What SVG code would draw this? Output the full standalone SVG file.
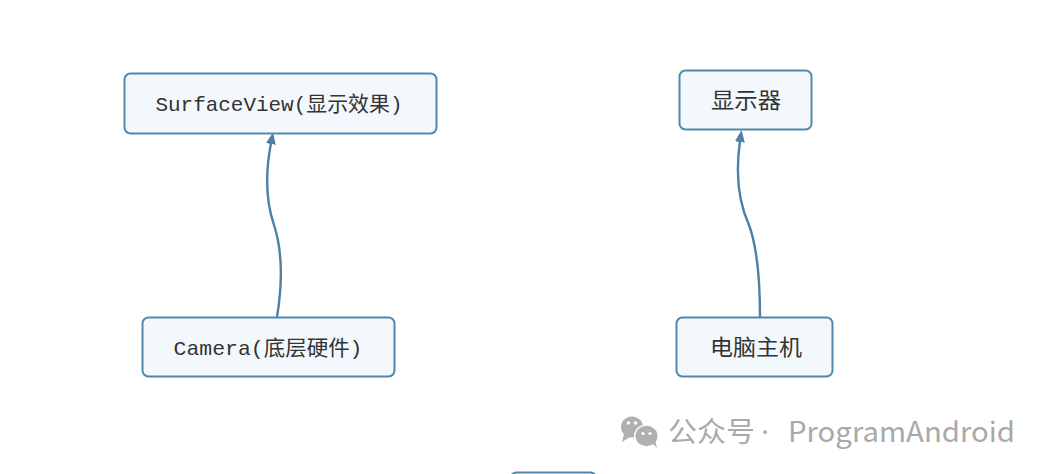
<svg xmlns="http://www.w3.org/2000/svg" width="1050" height="474" viewBox="0 0 1050 474">
  <style>
    .box { fill: #f3f8fc; stroke: #5288a9; stroke-width: 2; }
    .lbl { font-family: "Liberation Mono", "Noto Sans CJK SC", monospace; font-size: 21px; fill: #333333; text-anchor: middle; }
    .cjk { font-family: "Noto Sans CJK SC", sans-serif; font-size: 22px; fill: #333333; text-anchor: middle; }
    .link { fill: none; stroke: #4d80a3; stroke-width: 2.4; stroke-linecap: round; }
    .wm { font-family: "Noto Sans CJK SC", "Noto Sans", sans-serif; font-size: 28px; fill: #a9a9a9; }
  </style>
  <defs>
    <marker id="arrow" viewBox="0 0 12 10" refX="1" refY="5" markerWidth="12" markerHeight="10" markerUnits="userSpaceOnUse" orient="auto">
      <path d="M0,0 L12,5 L0,10 z" fill="#4d80a3"/>
    </marker>
  </defs>

  <rect width="1050" height="474" fill="#ffffff"/>

  <!-- connectors -->
  <g id="connectors">
    <path class="link" d="M277,317 Q286,262 274,225 Q262,190 271,143" marker-end="url(#arrow)"/>
    <path class="link" d="M760,317 Q760,255 749,225 Q733,190 740,141" marker-end="url(#arrow)"/>
  </g>

  <!-- nodes -->
  <g id="node-surfaceview">
    <rect class="box" x="124.5" y="73.5" width="312" height="60" rx="6"/>
    <text class="lbl" x="279" y="111" textLength="247" lengthAdjust="spacingAndGlyphs">SurfaceView(显示效果)</text>
  </g>
  <g id="node-display">
    <rect class="box" x="679.5" y="70.5" width="132" height="59" rx="6"/>
    <text class="cjk" x="746" y="108" textLength="70" lengthAdjust="spacingAndGlyphs">显示器</text>
  </g>
  <g id="node-camera">
    <rect class="box" x="142.5" y="317.5" width="252" height="59" rx="6"/>
    <text class="lbl" x="268" y="355" textLength="189" lengthAdjust="spacingAndGlyphs">Camera(底层硬件)</text>
  </g>
  <g id="node-host">
    <rect class="box" x="676.5" y="317.5" width="156" height="59" rx="6"/>
    <text class="cjk" x="756" y="355" textLength="92" lengthAdjust="spacingAndGlyphs">电脑主机</text>
  </g>
  <g id="node-bottom">
    <rect class="box" x="510.5" y="472.5" width="86" height="40" rx="6"/>
  </g>

  <!-- watermark -->
  <g id="watermark">
    <g fill="#b0b0b0">
      <ellipse cx="632" cy="427" rx="11" ry="10.5"/>
      <path d="M624,434 L622,442 L630,437 z"/>
      <ellipse cx="646.5" cy="436" rx="12.5" ry="11.5" fill="#ffffff"/>
      <ellipse cx="646.5" cy="436" rx="11" ry="10.2"/>
      <path d="M652,443 L657,448 L655,440 z"/>
    </g>
    <g fill="#ffffff">
      <circle cx="628.5" cy="423" r="1.8"/>
      <circle cx="635.5" cy="423" r="1.8"/>
      <circle cx="643" cy="433.5" r="1.6"/>
      <circle cx="650" cy="433.5" r="1.6"/>
    </g>
    <text class="wm" x="668" y="442" textLength="87" lengthAdjust="spacingAndGlyphs">公众号</text>
    <text class="wm" x="765" y="442" text-anchor="middle" style="font-family: 'Noto Sans', sans-serif">·</text>
    <text class="wm" x="788" y="442" textLength="227" lengthAdjust="spacingAndGlyphs">ProgramAndroid</text>
  </g>
</svg>
